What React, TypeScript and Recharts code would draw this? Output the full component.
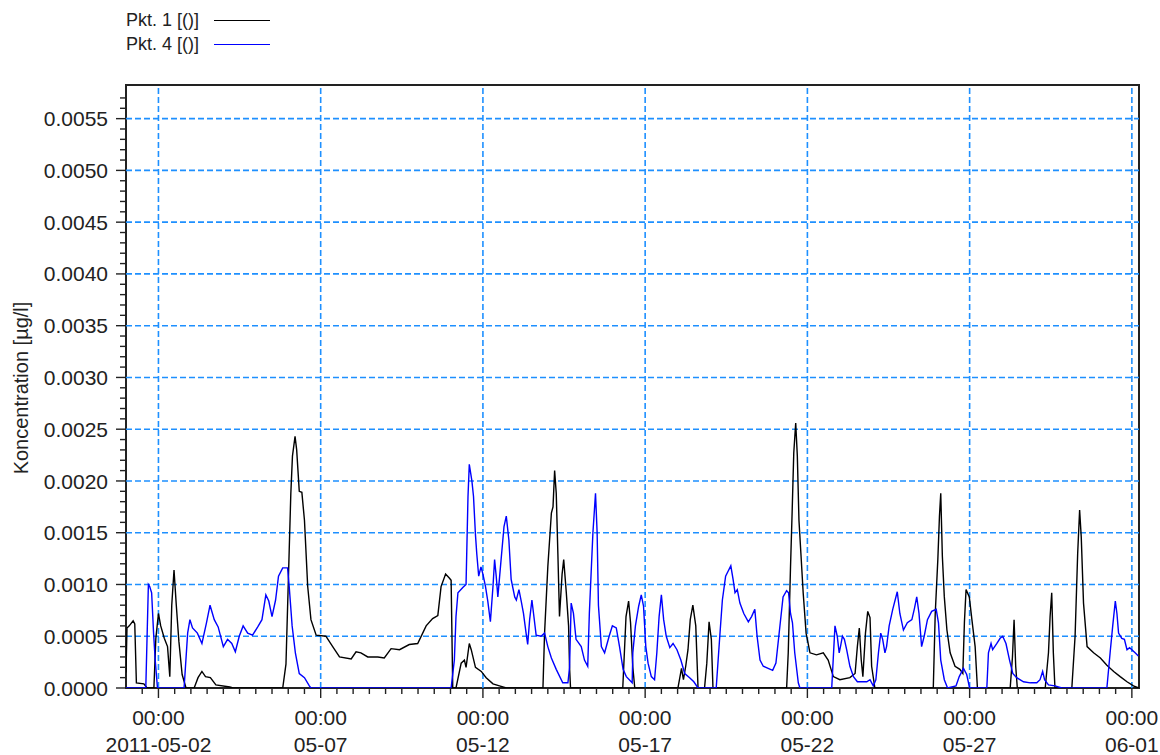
import React from 'react';
import { LineChart, Line, XAxis, YAxis, ReferenceLine, ReferenceArea, Legend } from 'recharts';

// time axis: days since 2011-05-01 00:00
const P1_TIME = [
  0, 0.03, 0.1, 0.22, 0.27, 0.32, 0.55, 0.65, 0.86, 0.92, 1.0, 1.07, 1.18, 1.28, 1.35, 1.41, 1.48, 1.55, 1.63, 1.73,
  1.85, 2.1, 2.22, 2.34, 2.45, 2.6, 2.77, 3.2, 3.3, 4.83, 4.93, 5.03, 5.08, 5.13, 5.21, 5.26, 5.34, 5.42, 5.5, 5.6,
  5.7, 5.86, 6.16, 6.37, 6.58, 6.94, 7.09, 7.24, 7.45, 7.76, 7.96, 8.17, 8.43, 8.73, 8.99, 9.25, 9.45, 9.61, 9.71, 9.85,
  9.97, 10.02, 10.07, 10.17, 10.33, 10.43, 10.48, 10.58, 10.64, 10.77, 10.95, 11.1, 11.31, 11.51, 11.72, 12.85, 12.9, 13.0, 13.11, 13.16,
  13.21, 13.26, 13.31, 13.36, 13.44, 13.49, 13.57, 13.64, 13.67, 13.7, 15.31, 15.41, 15.49, 15.55, 15.62, 15.68, 17.01, 17.12, 17.18, 17.25,
  17.32, 17.39, 17.47, 17.56, 17.63, 17.83, 17.9, 17.97, 18.04, 18.09, 20.36, 20.41, 20.48, 20.53, 20.58, 20.64, 20.69, 20.74, 20.8, 20.87,
  20.96, 21.08, 21.28, 21.49, 21.64, 21.8, 22.0, 22.31, 22.47, 22.54, 22.6, 22.66, 22.71, 22.79, 22.86, 22.93, 22.98, 23.08, 24.88, 24.94,
  25.02, 25.07, 25.11, 25.16, 25.22, 25.3, 25.4, 25.55, 25.7, 25.79, 25.84, 25.89, 25.99, 26.07, 26.17, 26.24, 27.25, 27.32, 27.37, 27.42,
  27.47, 28.33, 28.43, 28.48, 28.53, 28.58, 28.63, 29.15, 29.25, 29.33, 29.39, 29.44, 29.51, 29.62, 29.82, 30.03, 30.23, 30.44, 30.64, 30.85,
  31.05, 31.21,
];
const P1_VALUE = [
  0.00015, 0.00058, 0.0006, 0.00065, 0.00062, 0.00005, 0.00004, 0, 0, 0.00048, 0.00072, 0.0006, 0.00048, 0.0004, 0.00011, 0.0008, 0.00114, 0.0008, 0.00045, 0.00013,
  0, 0, 0.0001, 0.00016, 0.00011, 0.0001, 0.00003, 0.00001, 0, 0, 0.00023, 0.00133, 0.00188, 0.00224, 0.00243, 0.0023, 0.0019, 0.00189, 0.00162, 0.00098,
  0.00066, 0.00051, 0.0005, 0.0004, 0.0003, 0.00028, 0.00035, 0.00034, 0.0003, 0.0003, 0.00029, 0.00038, 0.00037, 0.00042, 0.00043, 0.0006, 0.00067, 0.0007, 0.00098, 0.0011,
  0.00106, 0.00104, 0, 0, 0.00024, 0.00027, 0.0002, 0.00043, 0.00037, 0.0002, 0.00016, 0.0001, 0.00004, 0.00002, 0, 0, 0.00053, 0.00117, 0.00169, 0.00175,
  0.0021, 0.00188, 0.0013, 0.00069, 0.0011, 0.00124, 0.00092, 0.0006, 0.0002, 0, 0, 0.00069, 0.00084, 0.00063, 0.0002, 0, 0, 0.00019, 0.00008, 0.00021,
  0.00037, 0.00066, 0.0008, 0.0006, 0, 0, 0.00024, 0.00064, 0.00047, 0, 0, 0.00034, 0.00117, 0.0017, 0.00227, 0.00256, 0.00224, 0.00162, 0.0013, 0.00092,
  0.00053, 0.00034, 0.00032, 0.00034, 0.00027, 0.00011, 0.00008, 0.0001, 0.00014, 0.0004, 0.00058, 0.00027, 0.00011, 0.00053, 0.00074, 0.00068, 0.00021, 0, 0, 0.00072,
  0.00124, 0.00166, 0.00188, 0.00127, 0.00088, 0.00056, 0.00034, 0.00021, 0.00018, 0.00014, 0.00064, 0.00095, 0.00088, 0.00066, 0.0004, 0, 0, 0.0003, 0.00066, 0.00021,
  0, 0, 0.00034, 0.00069, 0.00092, 0.00034, 0, 0, 0.0005, 0.0013, 0.00172, 0.00146, 0.00082, 0.0004, 0.00034, 0.00029, 0.00022, 0.00016, 0.00011, 0.00006,
  0.00002, 0,
];

const P4_TIME = [
  0, 0.61, 0.69, 0.73, 0.79, 0.85, 0.9, 0.97, 1.79, 1.9, 1.97, 2.05, 2.2, 2.34, 2.48, 2.59, 2.72, 2.84, 3.0, 3.13,
  3.26, 3.37, 3.49, 3.61, 3.75, 3.9, 4.06, 4.19, 4.31, 4.4, 4.5, 4.61, 4.7, 4.83, 4.98, 5.03, 5.12, 5.22, 5.34, 5.5,
  5.65, 5.7, 10.02, 10.12, 10.17, 10.23, 10.38, 10.48, 10.54, 10.58, 10.66, 10.71, 10.77, 10.81, 10.87, 10.94, 11.0, 11.08, 11.15, 11.23,
  11.31, 11.36, 11.41, 11.46, 11.56, 11.65, 11.72, 11.8, 11.87, 11.98, 12.03, 12.11, 12.18, 12.25, 12.33, 12.38, 12.44, 12.51, 12.56, 12.64,
  12.79, 12.9, 13.0, 13.11, 13.26, 13.46, 13.62, 13.67, 13.72, 13.79, 13.87, 14.03, 14.13, 14.23, 14.28, 14.39, 14.47, 14.52, 14.56, 14.65,
  14.75, 14.89, 14.99, 15.11, 15.21, 15.32, 15.42, 15.6, 15.62, 15.7, 15.8, 15.88, 15.95, 16.02, 16.09, 16.19, 16.29, 16.36, 16.43, 16.5,
  16.57, 16.65, 16.76, 16.86, 16.98, 17.1, 17.22, 17.37, 17.5, 17.63, 18.19, 18.3, 18.38, 18.48, 18.56, 18.64, 18.71, 18.77, 18.84, 18.92,
  19.04, 19.18, 19.28, 19.38, 19.45, 19.54, 19.64, 19.79, 19.93, 20.03, 20.13, 20.25, 20.36, 20.42, 20.48, 20.54, 20.61, 20.72, 20.77, 21.75,
  21.85, 21.92, 21.98, 22.02, 22.08, 22.14, 22.21, 22.31, 22.42, 22.54, 22.83, 22.93, 23.03, 23.11, 23.19, 23.26, 23.32, 23.39, 23.44, 23.52,
  23.63, 23.77, 23.85, 23.96, 24.08, 24.22, 24.3, 24.37, 24.44, 24.52, 24.6, 24.7, 24.83, 24.97, 25.04, 25.11, 25.22, 25.32, 25.58, 25.68,
  25.81, 25.91, 26.0, 26.53, 26.58, 26.66, 26.71, 26.84, 26.94, 27.02, 27.12, 27.23, 27.33, 27.45, 27.66, 27.87, 28.07, 28.17, 28.25, 28.31,
  28.43, 28.63, 28.84, 30.23, 30.33, 30.41, 30.49, 30.54, 30.59, 30.69, 30.77, 30.85, 30.93, 31.0, 31.1, 31.2,
];
const P4_VALUE = [
  0, 0, 0.001, 0.00098, 0.00092, 0.00053, 0.00027, 0, 0, 0.00053, 0.00066, 0.00058, 0.00053, 0.00043, 0.00063, 0.0008, 0.00066, 0.00059, 0.0004, 0.00047,
  0.00043, 0.00035, 0.0005, 0.0006, 0.00053, 0.00051, 0.00059, 0.00066, 0.0009, 0.00084, 0.00069, 0.00085, 0.00108, 0.00116, 0.00116, 0.00098, 0.0006, 0.00034, 0.00014, 0.0001,
  0.00002, 0, 0, 0.00027, 0.00069, 0.00092, 0.00097, 0.001, 0.00185, 0.00216, 0.002, 0.00185, 0.00148, 0.0013, 0.00108, 0.00117, 0.0011, 0.00098, 0.00084, 0.00064,
  0.00098, 0.00124, 0.00108, 0.00088, 0.00124, 0.00156, 0.00166, 0.00143, 0.00105, 0.00088, 0.00085, 0.00095, 0.00084, 0.00072, 0.00053, 0.00042, 0.00066, 0.00085, 0.00072, 0.00051,
  0.0005, 0.00053, 0.0004, 0.00029, 0.00018, 0.00005, 0.00005, 0.0002, 0.00082, 0.00072, 0.00047, 0.0004, 0.00027, 0.00021, 0.00072, 0.0015, 0.00188, 0.0015, 0.0008, 0.0004,
  0.00034, 0.0005, 0.0006, 0.00058, 0.0004, 0.00018, 0.00011, 0.00005, 0.00034, 0.0006, 0.00079, 0.0009, 0.00079, 0.0004, 0.00024, 0.00011, 0.00008, 0.00034, 0.00069, 0.0009,
  0.00066, 0.0005, 0.00039, 0.00043, 0.00037, 0.00027, 0.00014, 0.0001, 0.00006, 0, 0, 0.0005, 0.00085, 0.00108, 0.00113, 0.00118, 0.00105, 0.00092, 0.00095, 0.00082,
  0.00072, 0.00064, 0.00069, 0.00076, 0.0005, 0.00027, 0.00021, 0.00019, 0.00017, 0.00024, 0.00053, 0.00088, 0.00094, 0.00092, 0.00072, 0.00063, 0.00034, 0.00005, 0, 0,
  0.0006, 0.0005, 0.00034, 0.0004, 0.0005, 0.00047, 0.00037, 0.00021, 0.00011, 0.00006, 0.00006, 0.00008, 0.00002, 0.00008, 0.00034, 0.00053, 0.00047, 0.00034, 0.0004, 0.0006,
  0.00076, 0.00093, 0.00072, 0.00056, 0.00063, 0.00066, 0.00077, 0.00088, 0.00072, 0.0004, 0.0005, 0.00066, 0.00074, 0.00076, 0.00063, 0.00027, 0.00008, 0, 0.00002, 0.00011,
  0.00019, 0.00013, 0, 0, 0.00034, 0.00043, 0.00037, 0.00043, 0.00048, 0.0005, 0.00043, 0.00027, 0.00014, 0.0001, 0.00006, 0.00005, 0.00005, 0.00008, 0.00016, 0.00008,
  0.00003, 0.00002, 0, 0, 0.00034, 0.0006, 0.00084, 0.00072, 0.00053, 0.00048, 0.00047, 0.00037, 0.00039, 0.00037, 0.00034, 0.00031,
];

const X_MAJOR_DAYS = [1, 6, 11, 16, 21, 26, 31];
const X_DATE_LABELS = ['2011-05-02', '05-07', '05-12', '05-17', '05-22', '05-27', '06-01'];
const Y_MAJOR_TICKS = [0, 0.0005, 0.001, 0.0015, 0.002, 0.0025, 0.003, 0.0035, 0.004, 0.0045, 0.005, 0.0055];

const X_DOMAIN: [number, number] = [0, 31.22];
const Y_DOMAIN: [number, number] = [0, 0.005825];

const SERIES = [
  { name: 'Pkt. 1 [()]', color: '#000000', time: P1_TIME, value: P1_VALUE },
  { name: 'Pkt. 4 [()]', color: '#0000ff', time: P4_TIME, value: P4_VALUE },
];

const FONT = '"Liberation Sans", Arial, sans-serif';
const GRID = '#1e90ff';
const AXIS = '#222222';

// minor ticks: every half day on x, every 0.0001 on y
const xTicks: number[] = [];
for (let i = 1; i <= 62; i++) xTicks.push(i / 2);
const yTicks: number[] = [];
for (let i = 0; i <= 57; i++) yTicks.push(i / 10000);

const XTick = (props: any) => {
  const { x, y, payload } = props;
  const idx = X_MAJOR_DAYS.indexOf(payload.value);
  const major = idx >= 0;
  return (
    <g>
      <line x1={x} x2={x} y1={y} y2={y + (major ? 10 : 6)} stroke={AXIS} strokeWidth={1.4} />
      {major && (
        <text x={x} textAnchor="middle" fill="#222" fontSize={21} fontFamily={FONT}>
          <tspan x={x} y={y + 37}>00:00</tspan>
          <tspan x={x} y={y + 64}>{X_DATE_LABELS[idx]}</tspan>
        </text>
      )}
    </g>
  );
};

const YTick = (props: any) => {
  const { x, y, payload } = props;
  const major = Math.round(payload.value * 10000) % 5 === 0;
  return (
    <g>
      <line x1={x - (major ? 10 : 6)} x2={x} y1={y} y2={y} stroke={AXIS} strokeWidth={1.4} />
      {major && (
        <text x={x - 18} y={y} dy="0.36em" textAnchor="end" fill="#222" fontSize={21} fontFamily={FONT}>
          {payload.value.toFixed(4)}
        </text>
      )}
    </g>
  );
};

const LegendBox = () => (
  <div style={{ fontFamily: FONT, fontSize: 18, color: '#222' }}>
    {SERIES.map((s) => (
      <div key={s.name} style={{ display: 'flex', alignItems: 'center', height: 24 }}>
        <span style={{ width: 88, whiteSpace: 'nowrap' }}>{s.name}</span>
        <span style={{ width: 56, height: 0, borderTop: `1.5px solid ${s.color}` }} />
      </div>
    ))}
  </div>
);

const YLabel = () => (
  <text x={28} y={388} transform="rotate(-90 28 388)" textAnchor="middle" fill="#222" fontSize={20} fontFamily={FONT}>
    Koncentration [µg/l]
  </text>
);

export default function App() {
  const lines = SERIES.map((s) => ({
    ...s,
    data: s.time.map((t, i) => ({ t, v: s.value[i] })),
  }));

  return (
    <div style={{ position: 'absolute', left: 0, top: 0, width: 1160, height: 755, background: '#fff' }}>
      <LineChart width={1160} height={755} margin={{ top: 85, right: 21, bottom: 7, left: 26 }}>
        <XAxis
          dataKey="t"
          type="number"
          domain={X_DOMAIN}
          ticks={xTicks}
          allowDataOverflow
          axisLine={false}
          tickLine={false}
          tickSize={0}
          tickMargin={0}
          height={60}
          interval={0}
          tick={<XTick />}
        />
        <YAxis
          type="number"
          domain={Y_DOMAIN}
          ticks={yTicks}
          allowDataOverflow
          axisLine={false}
          tickLine={false}
          tickSize={0}
          tickMargin={0}
          width={100}
          interval={0}
          tick={<YTick />}
          label={{ content: <YLabel /> }}
        />
        {Y_MAJOR_TICKS.slice(1).map((v) => (
          <ReferenceLine key={`gy-${v}`} y={v} stroke={GRID} strokeWidth={1.6} strokeDasharray="6 3" />
        ))}
        {X_MAJOR_DAYS.map((d) => (
          <ReferenceLine key={`gx-${d}`} x={d} stroke={GRID} strokeWidth={1.6} strokeDasharray="6 3" />
        ))}
        {lines.map((s) => (
          <Line
            key={s.name}
            data={s.data}
            dataKey="v"
            name={s.name}
            type="linear"
            stroke={s.color}
            strokeWidth={1.4}
            dot={false}
            activeDot={false}
            isAnimationActive={false}
          />
        ))}
        <ReferenceArea
          x1={X_DOMAIN[0]}
          x2={X_DOMAIN[1]}
          y1={Y_DOMAIN[0]}
          y2={Y_DOMAIN[1]}
          fill="none"
          stroke={AXIS}
          strokeWidth={2}
        />
        <Legend
          layout="vertical"
          align="center"
          verticalAlign="middle"
          wrapperStyle={{ position: 'absolute', left: 126, top: 8, width: 200 }}
          content={<LegendBox />}
        />
      </LineChart>
    </div>
  );
}
